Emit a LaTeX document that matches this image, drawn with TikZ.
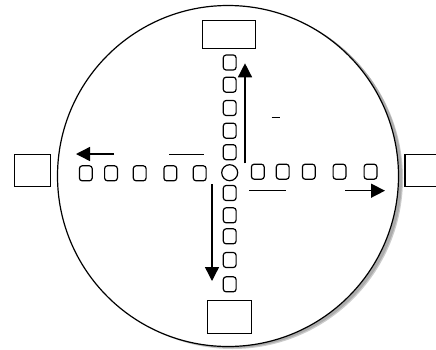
\documentclass[tikz,border=0pt]{standalone}
\usetikzlibrary{arrows.meta}
\begin{document}
\begin{tikzpicture}[x=1pt,y=-1pt,
  cell/.style={draw, line width=1.2pt, rounded corners=2.8pt, minimum width=12.8pt, minimum height=15pt, inner sep=0pt, fill=white},
  station/.style={draw, line width=1.1pt, inner sep=0pt, fill=white},
  hub/.style={draw, circle, line width=1.2pt, minimum size=16pt, inner sep=0pt, fill=white},
  flow/.style={line width=1.4pt, -{Triangle[length=14pt,width=14pt]}},
  bar/.style={line width=1.4pt}]
\useasboundingbox (0,0) rectangle (436,349);
% disc with shadow
\fill[gray!65] (231.5,177.5) circle (170.5);
\fill[gray!40] (232.5,178.5) circle (170.5);
\fill[gray!65] (231.5,177.5) circle (170.5);
\draw[line width=1.2pt, fill=white] (228,176) circle (170.5);
% stations
\node[station, minimum width=53pt, minimum height=28pt] (top) at (229.2,34.5) {};
\node[station, minimum width=44pt, minimum height=33pt] (bottom) at (229.3,317.2) {};
\node[station, minimum width=36pt, minimum height=32pt] (left) at (32.5,170.7) {};
\node[station, minimum width=40pt, minimum height=32pt] (right) at (425,170.5) {};
% hub
\node[hub] (hub) at (229.7,172.7) {};
% vertical cells
\foreach \i/\y in {1/62.5,2/84.7,3/108,4/130.7,5/152.2}
  \node[cell] (u\i) at (229.7,\y) {};
\foreach \i/\y in {1/193,2/215.3,3/236.3,4/260,5/284.3}
  \node[cell] (d\i) at (229.7,\y) {};
% horizontal cells
\foreach \i/\x in {1/85.8,2/111,3/139.7,4/170.3,5/199.7}
  \node[cell] (l\i) at (\x,173.3) {};
\foreach \i/\x in {1/257.8,2/282.7,3/308.8,4/339.5,5/370.5}
  \node[cell] (r\i) at (\x,171.7) {};
% arrows
\coordinate (upS) at (245,163.3);
\coordinate (upE) at (245,63.3);
\coordinate (dnS) at (212,184.3);
\coordinate (dnE) at (212,281);
\coordinate (ltS) at (114,154);
\coordinate (ltE) at (76,154);
\coordinate (rtS) at (345,190.7);
\coordinate (rtE) at (385,190.7);
\draw[flow] (upS) -- (upE);
\draw[flow] (dnS) -- (dnE);
\draw[flow] (ltS) -- (ltE);
\draw[flow] (rtS) -- (rtE);
% bars
\coordinate (b1a) at (169,154.3);
\coordinate (b1b) at (204,154.3);
\coordinate (b2a) at (249,190.7);
\coordinate (b2b) at (286,190.7);
\coordinate (b3a) at (271.7,117.3);
\coordinate (b3b) at (280,117.3);
\draw[bar] (b1a) -- (b1b);
\draw[bar] (b2a) -- (b2b);
\draw[line width=0.8pt] (b3a) -- (b3b);
\end{tikzpicture}
\end{document}
